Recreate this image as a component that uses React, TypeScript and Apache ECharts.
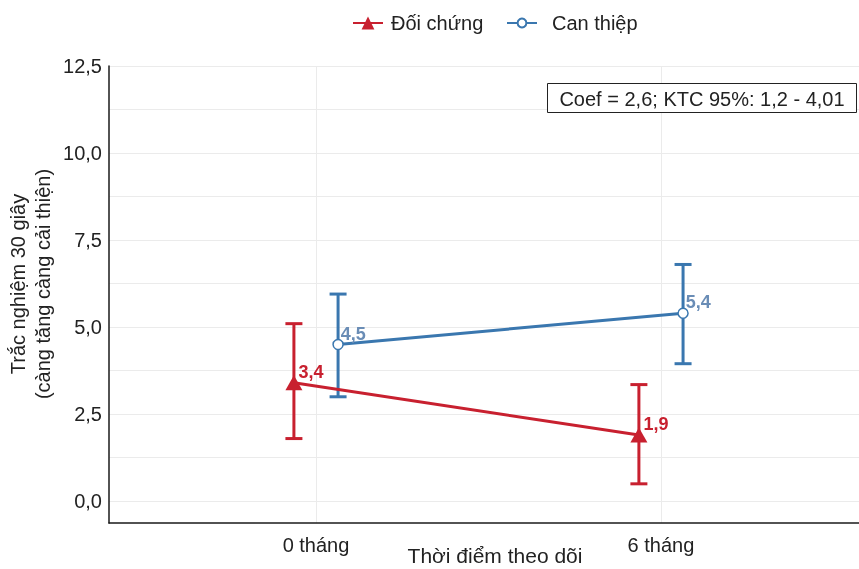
import React, { useEffect, useRef } from "react";
import * as echarts from "echarts";

const CATEGORIES = ["0 tháng", "6 tháng"];
const SERIES_NAMES = ["Đối chứng", "Can thiệp"];
const CONTROL_MEAN = [3.4, 1.9];
const CONTROL_LOW = [1.8, 0.5];
const CONTROL_HIGH = [5.1, 3.35];
const INTERV_MEAN = [4.5, 5.4];
const INTERV_LOW = [3.0, 3.95];
const INTERV_HIGH = [5.95, 6.8];
const Y_TICKS = [0, 2.5, 5, 7.5, 10, 12.5];
const Y_MINOR = [1.25, 3.75, 6.25, 8.75, 11.25];
const ANNOTATION = "Coef = 2,6; KTC 95%: 1,2 - 4,01";
const X_TITLE = "Thời điểm theo dõi";
const Y_TITLE = ["Trắc nghiệm 30 giây", "(càng tăng càng cải thiện)"];

const RED = "#c8202f";
const BLUE = "#3a77af";
const BLUE_LABEL = "#6a8db6";
const TEXT = "#222222";
const FONT = "'Liberation Sans', Arial, Helvetica, sans-serif";
const DODGE = 0.064;

const fmt = (v: number) => v.toFixed(1).replace(".", ",");
const near = (a: number, b: number) => Math.abs(a - b) < 1e-6;

export default function App() {
  const ref = useRef<HTMLDivElement>(null);

  useEffect(() => {
    if (!ref.current) return;
    const chart = echarts.init(ref.current, undefined, { renderer: "svg" });

    const catPos = CATEGORIES.map((_, i) => i + 1);
    const ctrlData = catPos.map((x, i) => [x - DODGE, CONTROL_MEAN[i]]);
    const intvData = catPos.map((x, i) => [x + DODGE, INTERV_MEAN[i]]);
    const ctrlErr = catPos.map((x, i) => [x - DODGE, CONTROL_LOW[i], CONTROL_HIGH[i]]);
    const intvErr = catPos.map((x, i) => [x + DODGE, INTERV_LOW[i], INTERV_HIGH[i]]);

    const errRender = (color: string) => (params: any, api: any) => {
      const x = api.value(0);
      const lo = api.value(1);
      const hi = api.value(2);
      const pHi = api.coord([x, hi]);
      const pLo = api.coord([x, lo]);
      const half = 8.5;
      const style = { stroke: color, lineWidth: 3 };
      return {
        type: "group",
        children: [
          { type: "line", shape: { x1: pHi[0], y1: pHi[1], x2: pLo[0], y2: pLo[1] }, style },
          { type: "line", shape: { x1: pHi[0] - half, y1: pHi[1], x2: pHi[0] + half, y2: pHi[1] }, style },
          { type: "line", shape: { x1: pLo[0] - half, y1: pLo[1], x2: pLo[0] + half, y2: pLo[1] }, style },
        ],
      };
    };

    const gridLines = [
      ...Y_TICKS.map((v) => ({ yAxis: v })),
      ...Y_MINOR.map((v) => ({ yAxis: v })),
      ...catPos.map((v) => ({ xAxis: v })),
    ];

    const option: any = {
      animation: false,
      textStyle: { fontFamily: FONT },
      grid: {
        left: 109,
        top: 66,
        width: 750,
        height: 457,
        containLabel: false,
        outerBoundsMode: "none",
      },
      legend: [
        {
          data: [SERIES_NAMES[0]],
          left: 352,
          top: 13,
          padding: 0,
          itemWidth: 30,
          itemHeight: 16,
          itemGap: 0,
          textStyle: { fontSize: 20, color: TEXT, fontFamily: FONT, padding: [0, 0, 0, 3] },
        },
        {
          data: [SERIES_NAMES[1]],
          left: 506,
          top: 13,
          padding: 0,
          itemWidth: 30,
          itemHeight: 11,
          itemGap: 0,
          textStyle: { fontSize: 20, color: TEXT, fontFamily: FONT, padding: [0, 0, 0, 10] },
        },
      ],
      xAxis: {
        type: "value",
        min: 0.4,
        max: 2.574,
        interval: 0.2,
        axisLine: { show: true, onZero: false, lineStyle: { color: "#1a1a1a", width: 1.5 } },
        axisTick: { show: false },
        splitLine: { show: false },
        axisLabel: {
          fontSize: 20,
          color: TEXT,
          fontFamily: FONT,
          margin: 12,
          formatter: (v: number) => {
            const idx = catPos.findIndex((p) => near(p, v));
            return idx >= 0 ? CATEGORIES[idx] : "";
          },
        },
      },
      yAxis: {
        type: "value",
        min: -0.625,
        max: 12.5,
        interval: 0.625,
        axisLine: { show: true, onZero: false, lineStyle: { color: "#1a1a1a", width: 1.5 } },
        axisTick: { show: false },
        splitLine: { show: false },
        axisLabel: {
          fontSize: 20,
          color: TEXT,
          fontFamily: FONT,
          margin: 7,
          formatter: (v: number) => {
            const t = Y_TICKS.find((p) => near(p, v));
            return t !== undefined ? fmt(t) : "";
          },
        },
      },
      series: [
        {
          name: "grid-helper",
          type: "line",
          data: [],
          silent: true,
          z: 0,
          markLine: {
            silent: true,
            symbol: "none",
            z: 0,
            label: { show: false },
            lineStyle: { color: "#ebebeb", width: 1, type: "solid" },
            emphasis: { disabled: true },
            data: gridLines,
          },
        },
        {
          name: SERIES_NAMES[0] + "-err",
          type: "custom",
          renderItem: errRender(RED),
          data: ctrlErr,
          z: 3,
          silent: true,
        },
        {
          name: SERIES_NAMES[1] + "-err",
          type: "custom",
          renderItem: errRender(BLUE),
          data: intvErr,
          z: 3,
          silent: true,
        },
        {
          name: SERIES_NAMES[0],
          type: "line",
          data: ctrlData,
          z: 5,
          symbol: "triangle",
          symbolSize: [17, 15],
          itemStyle: { color: RED },
          lineStyle: { color: RED, width: 3 },
          label: {
            show: true,
            position: "right",
            distance: 0,
            offset: [-4, -11],
            color: RED,
            fontWeight: "bold",
            fontSize: 18,
            fontFamily: FONT,
            formatter: (p: any) => fmt(p.value[1]),
          },
        },
        {
          name: SERIES_NAMES[1],
          type: "line",
          data: intvData,
          z: 5,
          symbol: "circle",
          symbolSize: 10,
          itemStyle: { color: "#ffffff", borderColor: BLUE, borderWidth: 1.5 },
          lineStyle: { color: BLUE, width: 3 },
          label: {
            show: true,
            position: "right",
            distance: 0,
            offset: [-3, -11],
            color: BLUE_LABEL,
            fontWeight: "bold",
            fontSize: 18,
            fontFamily: FONT,
            formatter: (p: any) => fmt(p.value[1]),
          },
        },
      ],
      graphic: [
        {
          type: "group",
          left: 547,
          top: 83,
          z: 20,
          children: [
            {
              type: "rect",
              z: 20,
              shape: { x: 0, y: 0, width: 309, height: 29 },
              style: { fill: "#ffffff", stroke: "#222222", lineWidth: 1 },
            },
            {
              type: "text",
              z: 21,
              x: 154.5,
              y: 15,
              style: {
                text: ANNOTATION,
                fontSize: 20,
                fontFamily: FONT,
                fill: TEXT,
                align: "center",
                verticalAlign: "middle",
              },
            },
          ],
        },
        {
          type: "text",
          x: 495,
          y: 555,
          style: {
            text: X_TITLE,
            fontSize: 21,
            fontFamily: FONT,
            fill: TEXT,
            align: "center",
            verticalAlign: "middle",
          },
        },
        {
          type: "text",
          x: 30,
          y: 284,
          rotation: Math.PI / 2,
          style: {
            text: Y_TITLE.join("\n"),
            fontSize: 20,
            lineHeight: 25,
            fontFamily: FONT,
            fill: TEXT,
            align: "center",
            verticalAlign: "middle",
          },
        },
      ],
    };

    chart.setOption(option);
    return () => chart.dispose();
  }, []);

  return (
    <div
      ref={ref}
      style={{ position: "fixed", left: 0, top: 0, width: 859, height: 569 }}
    />
  );
}
